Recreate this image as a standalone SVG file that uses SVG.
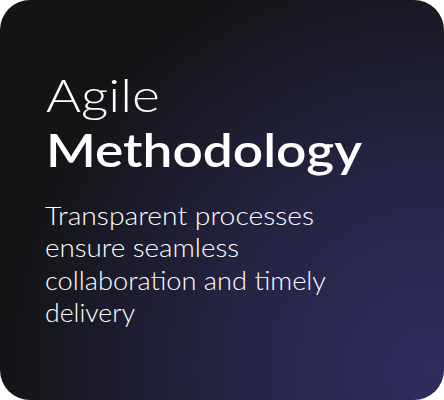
<svg xmlns="http://www.w3.org/2000/svg" width="444" height="400" viewBox="0 0 444 400">
  <defs>
    <radialGradient id="bg" gradientUnits="userSpaceOnUse" cx="430" cy="370" r="430">
      <stop offset="0" stop-color="#2e2d5e"/>
      <stop offset="0.5" stop-color="#242342"/>
      <stop offset="1" stop-color="#141416"/>
    </radialGradient>
  </defs>
  <style>
    text { fill: #ffffff; font-family: Lato, "Noto Sans", sans-serif; }
    .t1 { font-size: 46px; font-weight: 300; }
    .t2 { font-size: 46px; font-weight: 600; }
    .p { font-size: 25px; font-weight: 300; }
  </style>
  <g id="card">
    <rect x="0" y="0" width="444" height="400" rx="30" ry="30" fill="url(#bg)"/>
  </g>
  <g id="title">
    <text class="t1" x="46" y="112" textLength="114" lengthAdjust="spacingAndGlyphs">Agile</text>
    <text class="t2" x="46" y="167" textLength="316" lengthAdjust="spacingAndGlyphs">Methodology</text>
  </g>
  <g id="body">
    <text class="p" x="45" y="225" textLength="269" lengthAdjust="spacingAndGlyphs">Transparent processes</text>
    <text class="p" x="45" y="257" textLength="194" lengthAdjust="spacingAndGlyphs">ensure seamless</text>
    <text class="p" x="45" y="290" textLength="281" lengthAdjust="spacingAndGlyphs">collaboration and timely</text>
    <text class="p" x="45" y="322" textLength="90" lengthAdjust="spacingAndGlyphs">delivery</text>
  </g>
</svg>
